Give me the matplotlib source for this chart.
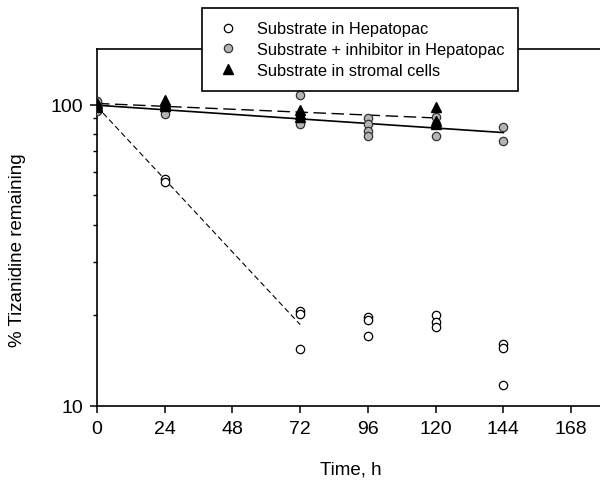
import numpy as np
import matplotlib
matplotlib.use("Agg")
import matplotlib.pyplot as plt
from matplotlib.lines import Line2D
from matplotlib.ticker import LogLocator, FixedLocator, NullFormatter

plt.rcParams['font.family'] = ['Liberation Sans', 'DejaVu Sans']

# ---- data ----
t_hep = [0, 0, 24, 24, 72, 72, 72, 96, 96, 96, 120, 120, 120, 144, 144, 144]
hep = [101, 97, 56.8, 55.5, 20.7, 20.2, 15.5, 19.7, 19.3, 17.1, 20.0, 19.0, 18.3, 16.1, 15.6, 11.7]

t_inh = [0, 0, 0, 24, 24, 24, 72, 72, 72, 96, 96, 96, 96, 120, 120, 120, 144, 144]
inh = [103, 99, 95, 98, 95, 93, 108, 90, 86, 90, 86, 82, 78.5, 91, 86, 78.5, 84, 75.5]

t_str = [0, 0, 0, 24, 24, 24, 72, 72, 72, 120, 120, 120]
stro = [101, 99, 98, 104, 101, 99, 96, 93, 91, 98, 88, 86]

x_ticks = [0, 24, 48, 72, 96, 120, 144, 168]
y_ticks = [10, 100]
legend_labels = ["Substrate in Hepatopac",
                 "Substrate + inhibitor in Hepatopac",
                 "Substrate in stromal cells"]
hep_fit_max_t = 72


def logfit(t, v, tmax=None):
    t = np.asarray(t, float)
    v = np.asarray(v, float)
    if tmax is not None:
        m = t <= tmax
        t, v = t[m], v[m]
    b, a = np.polyfit(t, np.log10(v), 1)
    tt = np.array([t.min(), t.max()])
    return tt, 10 ** (a + b * tt)


fig = plt.figure(figsize=(6.0, 4.85), dpi=100)
ax = fig.add_axes([97 / 600, 1 - 407 / 485, 508 / 600, 357 / 485])

# fit lines
tt, vv = logfit(t_hep, hep, hep_fit_max_t)
ax.plot(tt, vv, color='black', lw=0.8, ls=(0, (5, 3)), zorder=2)
tt, vv = logfit(t_inh, inh)
ax.plot(tt, vv, color='black', lw=1.2, ls='-', zorder=2)
tt, vv = logfit(t_str, stro)
ax.plot(tt, vv, color='black', lw=1.0, ls=(0, (9, 4)), zorder=2)

# data points
ax.plot(t_hep, hep, ls='none', marker='o', ms=6, mfc='white', mec='black', mew=0.9, zorder=3)
ax.plot(t_inh, inh, ls='none', marker='o', ms=6, mfc='#b4b4b4', mec='#333333', mew=0.9, zorder=3)
ax.plot(t_str, stro, ls='none', marker='^', ms=7, mfc='black', mec='black', zorder=4)

ax.set_yscale('log')
ax.set_ylim(10, 153)
ax.set_xlim(0, 180)
ax.yaxis.set_major_locator(FixedLocator(y_ticks))
ax.set_yticklabels([str(v) for v in y_ticks])
ax.yaxis.set_minor_locator(LogLocator(base=10, subs=np.arange(2, 10)))
ax.yaxis.set_minor_formatter(NullFormatter())
ax.set_xticks(x_ticks)
ax.set_xticklabels([str(v) for v in x_ticks])

for s in ['left', 'bottom', 'top']:
    ax.spines[s].set_linewidth(1.2)
ax.spines['right'].set_visible(False)
ax.tick_params(axis='both', which='major', direction='out', length=5, width=1.1,
               labelsize=14, pad=5)
ax.tick_params(axis='y', which='minor', direction='out', length=3, width=1.0)

fig.text(351 / 600, 1 - 470 / 485, "Time, h", ha='center', va='center', fontsize=13.5)
fig.text(18 / 600, 1 - 250 / 485, "% Tizanidine remaining", ha='center', va='center',
         rotation=90, fontsize=13.5)

handles = [
    Line2D([], [], ls='none', marker='o', ms=6, mfc='white', mec='black', mew=0.9),
    Line2D([], [], ls='none', marker='o', ms=6, mfc='#b4b4b4', mec='#333333', mew=0.9),
    Line2D([], [], ls='none', marker='^', ms=7, mfc='black', mec='black'),
]
leg = fig.legend(handles, legend_labels, loc='upper left',
                 bbox_to_anchor=(201.7 / 600, 1 - 9.3 / 485), bbox_transform=fig.transFigure,
                 fontsize=11.8, numpoints=1, frameon=True, fancybox=False,
                 borderpad=0.8, labelspacing=0.35, handlelength=1.6, handletextpad=1.0,
                 borderaxespad=0)
leg.get_frame().set_edgecolor('black')
leg.get_frame().set_linewidth(1.2)
leg.get_frame().set_facecolor('white')
leg.get_frame().set_alpha(1)
leg.set_zorder(10)

fig.savefig('out.png', dpi=100)
